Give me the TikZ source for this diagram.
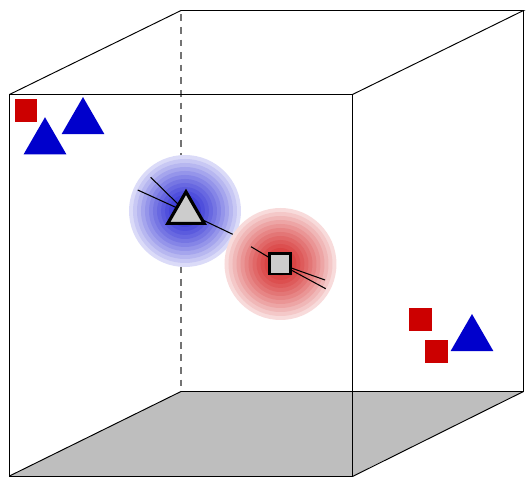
\documentclass[tikz,border=0pt]{standalone}
\usepackage{xcolor}
\usepackage{tikz}
\usetikzlibrary{shapes.geometric}
\definecolor{kred}{RGB}{204,0,0}
\definecolor{kblue}{RGB}{0,0,204}
\definecolor{kfloor}{RGB}{190,190,190}
\definecolor{kcore}{RGB}{204,204,204}
\tikzset{
  edge/.style={black, line width=0.55pt},
  track/.style={black, line width=0.6pt},
  backedge/.style={black!55, line width=1pt, dash pattern=on 3.8pt off 3.37pt, dash phase=4.7pt},
  bluetri/.style={regular polygon, regular polygon sides=3, fill=kblue, inner sep=0pt, outer sep=0pt, minimum size=0.99cm},
  redsq/.style={rectangle, fill=kred, inner sep=0pt, outer sep=0pt, minimum size=0.46cm},
  coretri/.style={regular polygon, regular polygon sides=3, fill=kcore, draw=black, line width=1.8pt, inner sep=0pt, outer sep=0pt, minimum size=0.842cm},
  coresq/.style={rectangle, fill=kcore, draw=black, line width=1.5pt, inner sep=0pt, outer sep=0pt, minimum size=0.414cm}
}
\begin{document}
\begin{tikzpicture}[x=0.02cm, y=-0.02cm]
\useasboundingbox (0,0) rectangle (529,482);
% floor
\fill[kfloor] (9.5,476) -- (181,391.5) -- (523.5,391.5) -- (352,476) -- cycle;
% back edges
\draw[backedge] (181,10) -- (181,391.5);
\draw[edge] (9.5,476) -- (181,391.5) -- (523.5,391.5);
% glow
\foreach \glowx/\glowy/\glowcol in {185/211/kblue, 280.5/264/kred} {
  \foreach \glowr in {56,52,...,4} {
    \pgfmathsetmacro\glowp{14+70*(1-(\glowr/56)^1.5)}
    \fill[\glowcol!\glowp!white] (\glowx,\glowy) circle[radius=\glowr];
  }
}
% tracks
\coordinate (tA) at (150.7,177.3);
\coordinate (tB) at (137.7,190);
\coordinate (tC) at (232.7,234.3);
\coordinate (sA) at (251,246.7);
\coordinate (sB) at (325,280);
\coordinate (sC) at (325.7,288.7);
\coordinate (tcen) at (186,212);
\coordinate (scen) at (280,264);
\draw[track] (tA) -- (tcen);
\draw[track] (tB) -- (tcen);
\draw[track] (tC) -- (tcen);
\draw[track] (sA) -- (scen);
\draw[track] (sB) -- (scen);
\draw[track] (sC) -- (scen);
\node[coretri] (coreT) at (186,212.9) {};
\node[coresq] (coreS) at (280,263.7) {};
% outer particles
\node[redsq] (sqTL) at (26,110.4) {};
\node[bluetri] (triTLa) at (83,121.8) {};
\node[bluetri] (triTLb) at (45,142) {};
\node[redsq] (sqBRa) at (420.5,320) {};
\node[redsq] (sqBRb) at (436.7,351.3) {};
\node[bluetri] (triBR) at (472,338.8) {};
% front edges and top
\draw[edge] (9.5,94.5) rectangle (352.5,476.5);
\draw[edge] (9.5,94.5) -- (181,10.5) -- (523.5,10.5) -- (352.5,94.5);
\draw[edge] (523.5,10.5) -- (523.5,391.5) -- (352.5,476.5);
\end{tikzpicture}
\end{document}
